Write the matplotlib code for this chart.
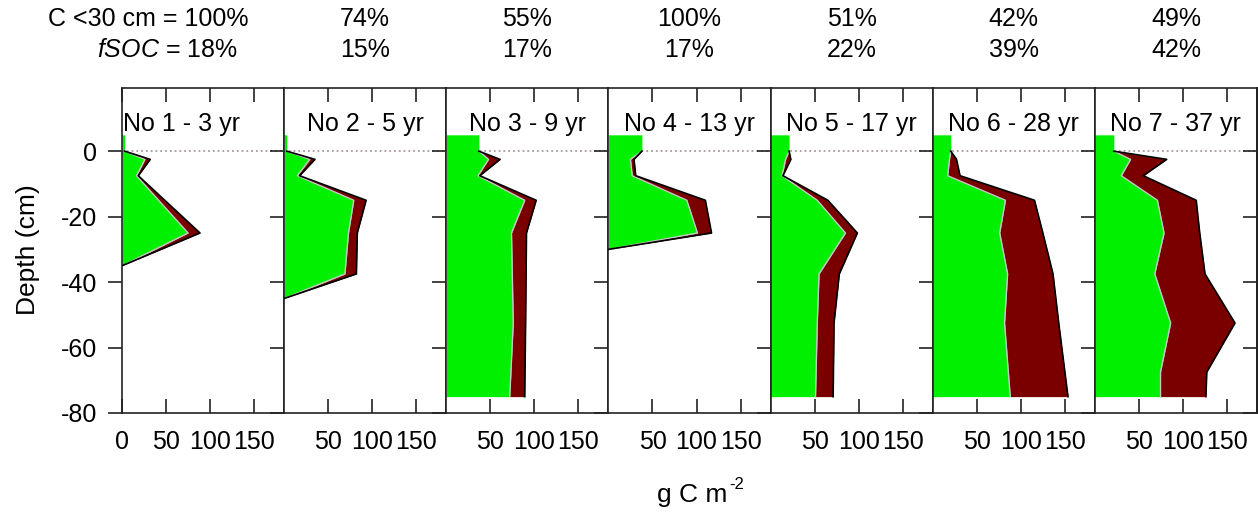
import matplotlib
matplotlib.use('Agg')
import matplotlib.pyplot as plt

plt.rcParams['font.family'] = ['Liberation Sans', 'DejaVu Sans']
plt.rcParams['mathtext.fontset'] = 'custom'
plt.rcParams['mathtext.rm'] = 'Liberation Sans'
plt.rcParams['mathtext.it'] = 'Liberation Sans:italic'
plt.rcParams['axes.unicode_minus'] = False

titles = ['No 1 - 3 yr', 'No 2 - 5 yr', 'No 3 - 9 yr', 'No 4 - 13 yr',
          'No 5 - 17 yr', 'No 6 - 28 yr', 'No 7 - 37 yr']
c30 = ['100%', '74%', '55%', '100%', '51%', '42%', '49%']
fsoc = ['18%', '15%', '17%', '17%', '22%', '39%', '42%']

# depth (cm), green = first part of profile, total = green + dark part (g C m-2)
depth1 = [5, 0, -2.5, -7.5, -25, -35]
green1 = [3, 3, 26, 16.5, 75, 0]
total1 = [3, 3, 32, 18.5, 88.5, 0]

depth2 = [5, 0, -2.5, -7.5, -15, -25, -37.5, -45]
green2 = [3, 3, 29, 15, 79, 73, 69, 0]
total2 = [3, 3, 35, 17.5, 93, 83, 82, 0]

depth3 = [5, 0, -2.5, -7.5, -15, -25, -52.5, -75]
green3 = [37, 37, 48, 36, 89, 74, 76, 72]
total3 = [37, 37, 61, 38, 102, 91, 90, 89]

depth4 = [5, 0, -2.5, -7.5, -15, -25, -30]
green4 = [38, 38, 25, 27, 89, 101, 0]
total4 = [38, 38, 29, 31, 110, 117, 0]

depth5 = [5, 0, -2.5, -7.5, -15, -25, -37.5, -52.5, -75]
green5 = [21, 21, 17, 13, 53, 85, 55, 53, 51]
total5 = [21, 21, 23, 14, 65, 98.5, 78, 72, 71]

depth6 = [5, 0, -2.5, -7.5, -15, -25, -37.5, -52.5, -75]
green6 = [20.5, 20.5, 19, 17, 82.5, 76, 85, 81.5, 88]
total6 = [20.5, 20.5, 27, 31, 115.5, 125, 136.5, 143, 153.5]

depth7 = [5, 0, -2.5, -7.5, -15, -25, -37.5, -52.5, -67.5, -75]
green7 = [21.5, 21.5, 40.5, 30, 71, 78.5, 68, 86, 74.5, 74.5]
total7 = [21.5, 21.5, 81.5, 55, 115, 119, 125, 159, 127, 126]

depths = [depth1, depth2, depth3, depth4, depth5, depth6, depth7]
greens = [green1, green2, green3, green4, green5, green6, green7]
totals = [total1, total2, total3, total4, total5, total6, total7]

yticks = [0, -20, -40, -60, -80]

W, H = 1258, 516
fig, axes = plt.subplots(1, 7, figsize=(W / 100, H / 100), dpi=100, sharey=True)
fig.subplots_adjust(left=122 / W, right=1257 / W, bottom=1 - 413 / H, top=1 - 88 / H, wspace=0)

for i, ax in enumerate(axes):
    d, g, t = depths[i], greens[i], totals[i]
    ax.axhline(0, color='#a89a9a', ls=':', lw=1.3, zorder=0)
    ax.fill_betweenx(d, 0, g, color='#00f000', lw=0, zorder=1)
    ax.fill_betweenx(d, g, t, color='#7a0000', lw=0, zorder=1)
    ax.plot(g[1:], d[1:], color='#c8c8c8', lw=1, zorder=2)
    ax.plot(t[1:], d[1:], color='black', lw=1.2, zorder=3)
    ax.set_xlim(0, 184)
    ax.set_ylim(-80, 19.3)
    if i == 0:
        ax.set_xticks([0, 50, 100, 150])
        ax.text(1.0, 6.3, titles[i], ha='left', va='baseline', fontsize=18)
    else:
        ax.set_xticks([50, 100, 150])
        ax.text(92, 6.3, titles[i], ha='center', va='baseline', fontsize=18)
    ax.set_yticks(yticks)
    ax.tick_params(axis='x', direction='in', top=True, length=10, width=1.2,
                   labelsize=18, pad=12, color='#222222')
    ax.tick_params(axis='y', direction='out', length=10, width=1.2,
                   labelsize=18, pad=8, color='#222222', labelleft=(i == 0))
    for sp in ax.spines.values():
        sp.set_linewidth(1.2)
        sp.set_color('#222222')

    pos = ax.get_position()
    cx = (pos.x0 + pos.x1) / 2
    if i == 0:
        fig.text(248 / W, 1 - 19 / H, 'C <30 cm = ' + c30[i], ha='right', va='center', fontsize=18)
        fig.text(238 / W, 1 - 50 / H, r'$\mathit{fSOC}$ = ' + fsoc[i], ha='right', va='center', fontsize=18)
    else:
        fig.text(cx, 1 - 19 / H, c30[i], ha='center', va='center', fontsize=18)
        fig.text(cx, 1 - 50 / H, fsoc[i], ha='center', va='center', fontsize=18)

sec = axes[-1].secondary_yaxis('right')
sec.set_yticks(yticks)
sec.tick_params(direction='in', length=10, width=1.2, labelright=False, color='#222222')
sec.spines['right'].set_linewidth(1.2)

fig.text(28 / W, 1 - 250 / H, 'Depth (cm)', rotation=90, ha='center', va='center', fontsize=19)
fig.text(727 / W, 1 - 502 / H, 'g C m', ha='right', va='baseline', fontsize=19)
fig.text(729 / W, 1 - 489 / H, '-2', ha='left', va='baseline', fontsize=12)

fig.savefig('out.png', dpi=100)
